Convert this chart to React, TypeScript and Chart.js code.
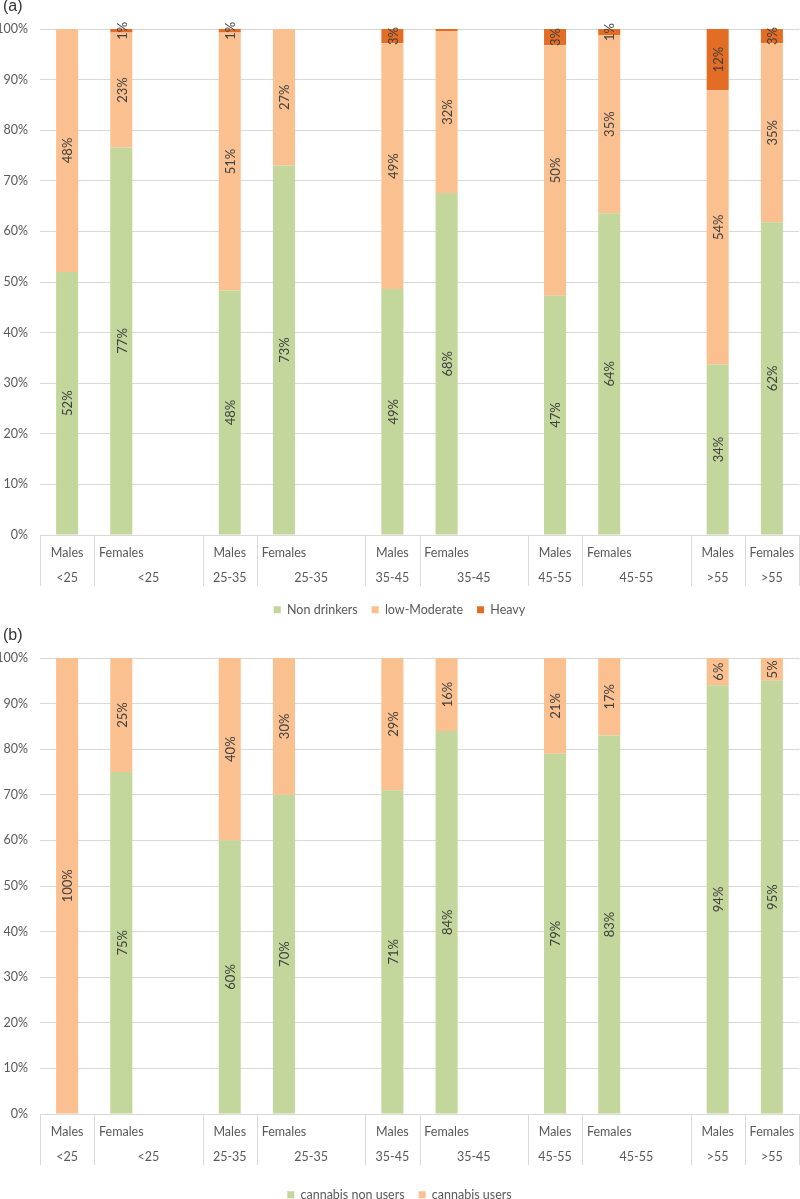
import React, { useEffect, useRef } from "react";
import { Chart, registerables } from "chart.js";

Chart.register(...registerables);

// ---- Category structure (blank categories separate the age groups) ----
const sexLabels = ["Males", "Females", "", "Males", "Females", "", "Males", "Females", "", "Males", "Females", "", "Males", "Females"];
const ageLabels = ["<25", "<25", "", "25-35", "25-35", "", "35-45", "35-45", "", "45-55", "45-55", "", ">55", ">55"];
const categories = sexLabels.map((s, i) => (s ? `${s} ${ageLabels[i]}` : ""));

// ---- Panel (a): alcohol consumption (%) ----
const nonDrinkers = [52, 76.6, null, 48.3, 73, null, 48.6, 67.6, null, 47.3, 63.6, null, 33.7, 61.8];
const lowModerate = [48, 22.7, null, 51, 27, null, 48.6, 32, null, 49.5, 35.2, null, 54.2, 35.4];
const heavy = [0, 0.7, null, 0.7, 0, null, 2.8, 0.4, null, 3.2, 1.2, null, 12.1, 2.8];

// ---- Panel (b): cannabis use (%) ----
const cannabisNonUsers = [0, 75, null, 60, 70, null, 71, 84, null, 79, 83, null, 94, 95];
const cannabisUsers = [100, 25, null, 40, 30, null, 29, 16, null, 21, 17, null, 6, 5];

// ---- Y axis ticks ----
const yTickValues = [0, 10, 20, 30, 40, 50, 60, 70, 80, 90, 100];

const GREEN = "#C3D69B";
const PEACH = "#FAC090";
const ORANGE = "#E46D26";
const GRID = "#D9D9D9";
const AXIS_TEXT = "#595959";
const LABEL_TEXT = "#404040";
const FONT_FAMILY = "Lato, 'Noto Sans', sans-serif";

const dataLabelPlugin = {
  id: "barValueLabels",
  afterDatasetsDraw(chart: any) {
    const ctx = chart.ctx;
    ctx.save();
    ctx.font = `13px ${FONT_FAMILY}`;
    ctx.fillStyle = LABEL_TEXT;
    ctx.textAlign = "center";
    ctx.textBaseline = "middle";
    chart.data.datasets.forEach((ds: any, di: number) => {
      const meta = chart.getDatasetMeta(di);
      meta.data.forEach((el: any, i: number) => {
        const v = ds.data[i];
        if (v == null) return;
        const r = Math.round(v);
        if (r <= 0) return;
        const { x, y, base } = el.getProps(["x", "y", "base"], true);
        const cy = (y + base) / 2;
        ctx.save();
        ctx.translate(x, cy);
        ctx.rotate(-Math.PI / 2);
        ctx.fillText(`${r}%`, 0, 1);
        ctx.restore();
      });
    });
    ctx.restore();
  },
};

const tablePlugin = {
  id: "categoryTable",
  afterDraw(chart: any, _args: any, opts: any) {
    const { ctx, chartArea } = chart;
    const xs = chart.scales.x;
    const n = chart.data.labels.length;
    const c0 = xs.getPixelForValue(0);
    const w = xs.getPixelForValue(1) - c0;
    const top = chartArea.bottom;
    const bottom = top + (opts.lineLength || 51);

    // build cells: a non-empty label plus following empty categories
    const cells: { start: number; end: number }[] = [];
    for (let i = 0; i < n; i++) {
      if (sexLabels[i] !== "" || cells.length === 0) cells.push({ start: i, end: i });
      else cells[cells.length - 1].end = i;
    }

    ctx.save();
    ctx.strokeStyle = GRID;
    ctx.lineWidth = 1;
    const edge = (i: number) => c0 + (i - 0.5) * w;
    const boundaries = new Set<number>();
    cells.forEach((c) => {
      boundaries.add(c.start);
      boundaries.add(c.end + 1);
    });
    boundaries.forEach((b) => {
      const xp = Math.round(edge(b)) + 0.5;
      ctx.beginPath();
      ctx.moveTo(xp, top);
      ctx.lineTo(xp, bottom);
      ctx.stroke();
    });

    ctx.fillStyle = AXIS_TEXT;
    ctx.font = `12.5px ${FONT_FAMILY}`;
    ctx.textAlign = "center";
    ctx.textBaseline = "middle";
    cells.forEach((c) => {
      const sx = xs.getPixelForValue(c.start);
      ctx.fillText(sexLabels[c.start], sx, top + 17.5);
      const mid = (edge(c.start) + edge(c.end + 1)) / 2;
      ctx.fillText(ageLabels[c.start], mid, top + 42.5);
    });
    ctx.restore();
  },
};

function makeConfig(datasets: any[], padTop: number, axisHeight: number) {
  return {
    type: "bar",
    data: { labels: categories, datasets },
    options: {
      animation: false,
      responsive: true,
      maintainAspectRatio: false,
      layout: { padding: { top: padTop, left: 0, right: 1, bottom: 0 } },
      datasets: { bar: { categoryPercentage: 1, barPercentage: 0.406 } },
      scales: {
        x: {
          stacked: true,
          grid: { display: false },
          border: { display: false },
          ticks: { display: false },
          afterFit: (s: any) => {
            s.height = axisHeight;
          },
        },
        y: {
          stacked: true,
          min: 0,
          max: 100,
          afterBuildTicks: (s: any) => {
            s.ticks = yTickValues.map((v) => ({ value: v }));
          },
          ticks: {
            callback: (v: any) => `${v}%`,
            padding: 12,
            color: AXIS_TEXT,
            font: { family: FONT_FAMILY, size: 12.5 },
          },
          grid: { color: GRID, drawTicks: false, lineWidth: 1 },
          border: { display: false },
          afterFit: (s: any) => {
            s.width = 40;
          },
        },
      },
      plugins: {
        legend: {
          position: "bottom",
          labels: {
            boxWidth: 7,
            boxHeight: 7,
            padding: 14,
            color: AXIS_TEXT,
            font: { family: FONT_FAMILY, size: 12.5 },
          },
        },
        tooltip: { enabled: false },
        categoryTable: { lineLength: 51 },
      },
    },
    plugins: [dataLabelPlugin, tablePlugin],
  } as any;
}

function ChartCanvas({ config }: { config: any }) {
  const ref = useRef<HTMLCanvasElement | null>(null);
  useEffect(() => {
    if (!ref.current) return;
    const chart = new Chart(ref.current, config);
    return () => chart.destroy();
  }, [config]);
  return <canvas ref={ref} />;
}

const configA = makeConfig(
  [
    { label: "Non drinkers", data: nonDrinkers, backgroundColor: GREEN },
    { label: "low-Moderate", data: lowModerate, backgroundColor: PEACH },
    { label: "Heavy", data: heavy, backgroundColor: ORANGE },
  ],
  29,
  54.5
);

const configB = makeConfig(
  [
    { label: "cannabis non users", data: cannabisNonUsers, backgroundColor: GREEN },
    { label: "cannabis users", data: cannabisUsers, backgroundColor: PEACH },
  ],
  32,
  60.5
);

export default function App() {
  const panelLabel: React.CSSProperties = {
    position: "absolute",
    left: 3,
    fontFamily: "'Liberation Sans', Arial, sans-serif",
    fontSize: 16,
    lineHeight: "16px",
    color: "#333333",
    zIndex: 2,
  };
  return (
    <div
      style={{
        position: "absolute",
        left: 0,
        top: 0,
        width: 800,
        height: 1199,
        overflow: "hidden",
        background: "#ffffff",
      }}
    >
      <div style={{ position: "absolute", left: 0, top: 0, width: 800, height: 626 }}>
        <ChartCanvas config={configA} />
      </div>
      <div style={{ position: "absolute", left: 0, top: 626, width: 800, height: 585 }}>
        <ChartCanvas config={configB} />
      </div>
      <div style={{ ...panelLabel, top: -2 }}>(a)</div>
      <div style={{ ...panelLabel, top: 627 }}>(b)</div>
    </div>
  );
}
